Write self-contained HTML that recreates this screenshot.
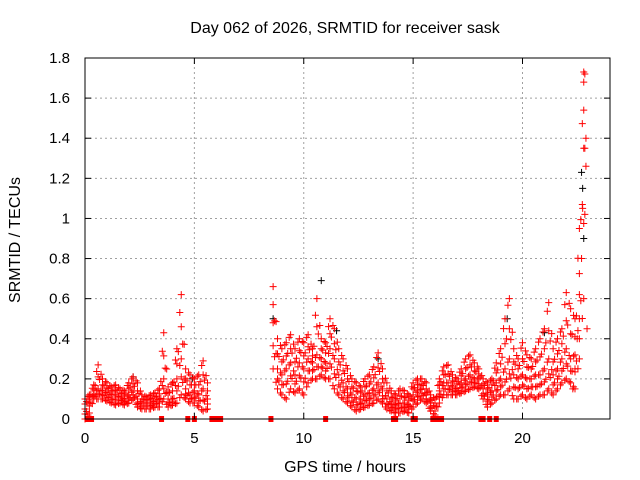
<!DOCTYPE html>
<html><head><meta charset="utf-8"><style>
body{margin:0;background:#fff}
svg{display:block;font-family:"Liberation Sans",sans-serif}
</style></head><body>
<svg id="c" width="640" height="480">
<rect width="640" height="480" fill="#fff"/>
<text x="345" y="33" font-size="16" text-anchor="middle">Day 062 of 2026, SRMTID for receiver sask</text>
<text x="345" y="472" font-size="16" text-anchor="middle">GPS time / hours</text>
<text transform="translate(20,240) rotate(-90)" font-size="16" text-anchor="middle">SRMTID / TECUs</text>
<g id="grid"></g><g id="marks"></g><g id="axes"></g>
</svg>
<script>
const xTicks=[0,5,10,15,20];
const yTicks=[0,0.2,0.4,0.6,0.8,1,1.2,1.4,1.6,1.8];
const yTickLabels=["0","0.2","0.4","0.6","0.8","1","1.2","1.4","1.6","1.8"];
const step=0.2;
const n=null;
const redHi=[.1,.12,.17,.27,.2,.18,.16,.17,.15,.14,.18,.21,.18,.12,.11,.12,.13,.15,.43,.16,.18,.35,.62,.25,.22,.2,.22,.29,.18,
n,n,n,n,n,n,n,n,n,n,n,n,n,n,
.66,.4,.35,.38,.42,.35,.4,.38,.42,.35,.6,.4,.38,.5,.45,.35,.3,.25,.2,.18,.16,.2,.22,.26,.33,.25,.18,.14,.12,.15,.14,.12,.18,.2,.2,.18,.12,.1,.2,.26,.27,.22,.2,.25,.3,.32,.28,.25,.2,.18,.2,.28,.35,.5,.6,.35,.3,.38,.32,.3,.35,.4,.45,.58,.35,.4,.45,.63,.55,.5,.95,1.73];
const redMid=[.05,.1,.12,.15,.14,.13,.12,.12,.11,.1,.12,.14,.1,.08,.08,.08,.09,.1,.2,.1,.1,.2,.3,.15,.12,.14,.12,.15,.1,
n,n,n,n,n,n,n,n,n,n,n,n,n,n,
.48,.25,.22,.25,.28,.22,.28,.25,.3,.28,.32,.3,.28,.35,.3,.22,.18,.15,.12,.1,.1,.12,.13,.15,.18,.15,.1,.08,.07,.08,.08,.07,.12,.14,.15,.12,.08,.06,.14,.18,.18,.16,.15,.18,.2,.22,.2,.2,.15,.12,.14,.18,.2,.25,.3,.22,.2,.22,.2,.2,.22,.22,.25,.3,.22,.25,.3,.35,.3,.32,.5,1.35];
const redLo=[0,.03,.1,.1,.1,.09,.08,.07,.08,.07,.08,.1,.06,.05,.05,.05,.06,.06,.1,.06,.07,.08,.12,.1,.08,.08,.06,.04,.05,
n,n,n,n,n,n,n,n,n,n,n,n,n,n,
.25,.15,.12,.1,.15,.13,.15,.12,.18,.2,.2,.22,.2,.2,.15,.12,.1,.08,.06,.04,.05,.06,.07,.08,.1,.08,.05,.04,.03,.03,.04,.03,.06,.08,.1,.08,.04,.02,.08,.12,.12,.12,.12,.13,.14,.15,.16,.15,.1,.06,.08,.1,.12,.12,.15,.1,.1,.12,.1,.12,.1,.12,.12,.15,.12,.15,.18,.2,.18,.15,.3,.6];
const spikeT=[22.7,22.75,22.8,22.85,22.85,22.9,22.9,22.85,22.6,22.95,22.5,22.4,22.3];
const spikeV=[.8,1.05,1.68,1.35,1.72,1.4,1.26,1.02,.62,.45,.4,.25,.15];
const blackT=[10.8,11.5,4.9,22.7,22.75,22.8,19.3,21.0,2.2,13.4,8.6];
const blackV=[.69,.44,.2,1.23,1.15,.9,.5,.43,.21,.3,.5];
const zeroT=[0.1,0.2,0.3,3.5,4.7,5.0,5.8,5.9,6.0,6.1,6.2,8.5,11.0,14.1,14.2,15.0,15.1,15.9,16.0,16.1,16.3,18.1,18.2,18.5,18.8];

const X0=85,X1=610,Y0=419,Y1=58;
const xs=t=>X0+t*(X1-X0)/24;
const ys=v=>Y0-v*(Y0-Y1)/1.8;
const NS="http://www.w3.org/2000/svg";
function mk(tag,attrs,parent){const e=document.createElementNS(NS,tag);for(const k in attrs)e.setAttribute(k,attrs[k]);parent.appendChild(e);return e;}
const grid=document.getElementById('grid'),marks=document.getElementById('marks'),axes=document.getElementById('axes');
yTicks.forEach((v,i)=>{
  if(v>0&&v<1.8){const g=mk('line',{x1:X0,x2:X1,y1:ys(v),y2:ys(v),stroke:'#a0a0a0','stroke-dasharray':'2,3'},grid);
  
  }
  const t=mk('text',{x:X0-15,y:ys(v)+5,'font-size':15,'text-anchor':'end'},axes);t.textContent=yTickLabels[i];
  
  
  mk('line',{x1:X0,x2:X0+6,y1:ys(v),y2:ys(v),stroke:'#000'},axes);
  mk('line',{x1:X1,x2:X1-6,y1:ys(v),y2:ys(v),stroke:'#000'},axes);
});
xTicks.forEach(v=>{
  if(v>0){const g=mk('line',{x1:xs(v),x2:xs(v),y1:Y0,y2:Y1,stroke:'#a0a0a0','stroke-dasharray':'2,3'},grid);
  
  }
  const t=mk('text',{x:xs(v),y:Y0+24,'font-size':15,'text-anchor':'middle'},axes);t.textContent=v;
  
  
  mk('line',{x1:xs(v),x2:xs(v),y1:Y0,y2:Y0-6,stroke:'#000'},axes);
  mk('line',{x1:xs(v),x2:xs(v),y1:Y1,y2:Y1+6,stroke:'#000'},axes);
});
const fr=mk('rect',{x:X0,y:Y1,width:X1-X0,height:Y0-Y1,fill:'none',stroke:'#000'},axes);


function plus(t,v,col,name){
  const x=xs(t),y=ys(v);
  const p=mk('path',{d:`M${x-3.5},${y}H${x+3.5}M${x},${y-3.5}V${y+3.5}`,stroke:col,'stroke-width':1,fill:'none'},marks);
  
  
}
blackT.forEach((t,i)=>plus(t,blackV[i],'#000','black-point'));
const subs=[0,0.33,0.67];
const levels=[0,0.25,0.5,0.75,1];
for(let i=0;i<redHi.length;i++){
  if(redHi[i]===null)continue;
  const hasNext=i+1<redHi.length&&redHi[i+1]!==null;
  subs.forEach((f,si)=>{
    if(f>0&&!hasNext)return;
    const j=hasNext?i+1:i;
    const hi=redHi[i]+(redHi[j]-redHi[i])*f;
    const md=redMid[i]+(redMid[j]-redMid[i])*f;
    const lo=redLo[i]+(redLo[j]-redLo[i])*f;
    levels.forEach((L,li)=>{
      if((li+si)%2===1&&f>0)return;
      const v=L<=0.5?lo+(md-lo)*(L/0.5):md+(hi-md)*((L-0.5)/0.5);
      plus((i+f)*step,v,'#f00','red-point');
    });
  });
}
spikeT.forEach((t,i)=>plus(t,spikeV[i],'#f00','red-point'));
zeroT.forEach(t=>{const r=mk('rect',{x:xs(t)-2.5,y:Y0-3,width:5,height:6,fill:'#f00'},marks);
  
  });
</script>
</body></html>
